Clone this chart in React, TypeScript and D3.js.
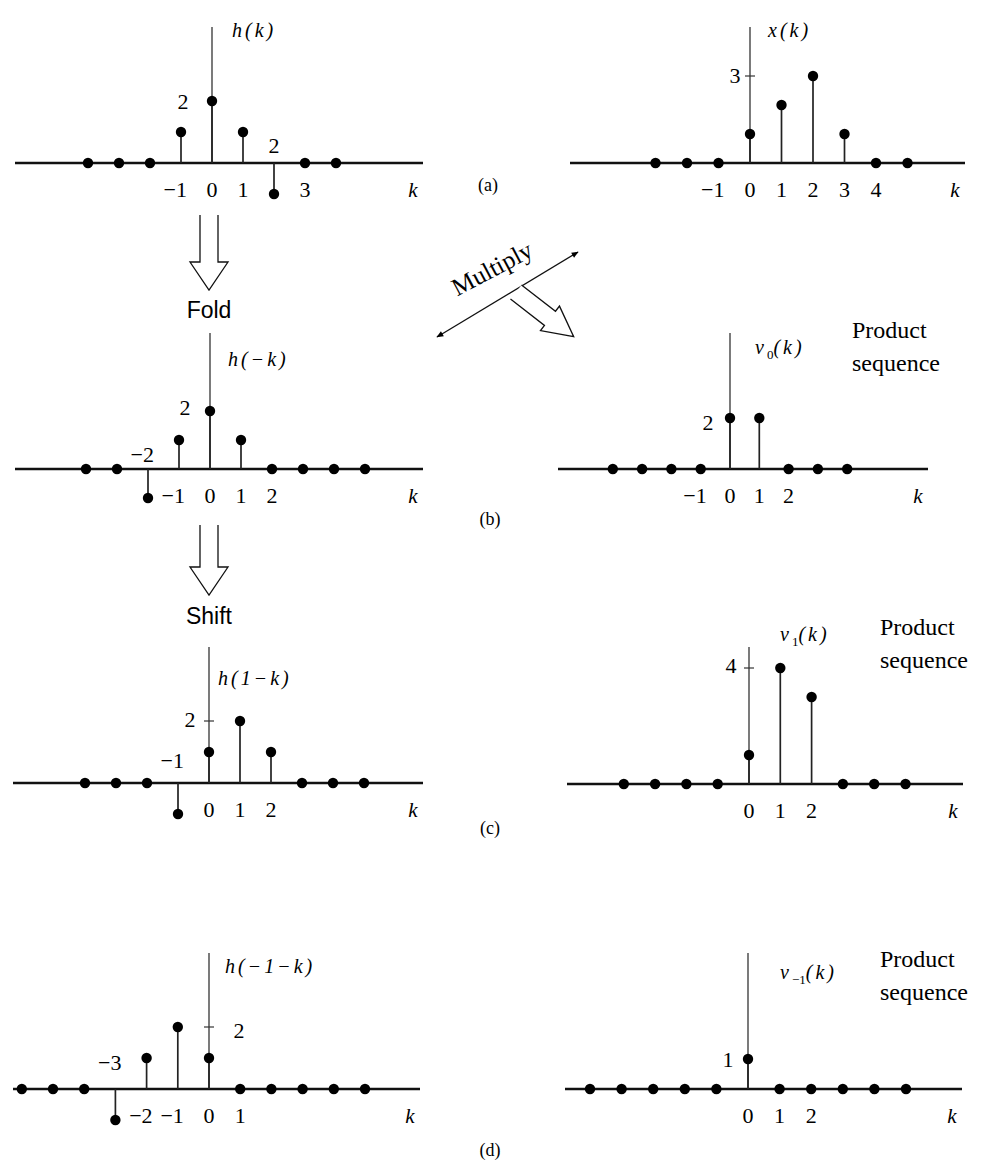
import React from 'react';
import * as d3 from 'd3';

// (a) h(k) and x(k)
const kH = [-4, -3, -2, -1, 0, 1, 2, 3, 4];
const hVals = [0, 0, 0, 1, 2, 1, -1, 0, 0];
const kX = [-3, -2, -1, 0, 1, 2, 3, 4, 5];
const xVals = [0, 0, 0, 1, 2, 3, 1, 0, 0];
// (b) folded h(-k) and product v0(k)
const kHm = [-4, -3, -2, -1, 0, 1, 2, 3, 4, 5];
const hmVals = [0, 0, -1, 1, 2, 1, 0, 0, 0, 0];
const kV0 = [-4, -3, -2, -1, 0, 1, 2, 3, 4];
const v0Vals = [0, 0, 0, 0, 2, 2, 0, 0, 0];
// (c) shifted h(1-k) and product v1(k)
const kH1 = [-4, -3, -2, -1, 0, 1, 2, 3, 4, 5];
const h1Vals = [0, 0, 0, -1, 1, 2, 1, 0, 0, 0];
const kV1 = [-4, -3, -2, -1, 0, 1, 2, 3, 4, 5];
const v1Vals = [0, 0, 0, 0, 1, 4, 3, 0, 0, 0];
// (d) shifted h(-1-k) and product v-1(k)
const kHn1 = [-6, -5, -4, -3, -2, -1, 0, 1, 2, 3, 4, 5];
const hn1Vals = [0, 0, 0, -1, 1, 2, 1, 0, 0, 0, 0, 0];
const kVn1 = [-5, -4, -3, -2, -1, 0, 1, 2, 3, 4, 5];
const vn1Vals = [0, 0, 0, 0, 0, 1, 0, 0, 0, 0, 0];

// k tick labels under the axis, and those written above it
const ticksA1 = [-1, 0, 1, 3];
const aboveA1 = [2];
const ticksA2 = [-1, 0, 1, 2, 3, 4];
const ticksB1 = [-1, 0, 1, 2];
const aboveB1 = [-2];
const ticksB2 = [-1, 0, 1, 2];
const ticksC1 = [0, 1, 2];
const aboveC1 = [-1];
const ticksC2 = [0, 1, 2];
const ticksD1 = [-2, -1, 0, 1];
const aboveD1 = [-3];
const ticksD2 = [0, 1, 2];

const SERIF = '"Liberation Serif", "DejaVu Serif", serif';
const SANS = '"Liberation Sans", Arial, sans-serif';
const MINUS = '\u2212';

const num = (v: number) => (v < 0 ? MINUS + Math.abs(v) : String(v));

interface PanelProps {
  ks: number[];
  vals: number[];
  ticks: number[];
  above?: number[];
  yLab: number;
  yLabDx: number;
  yLabDy: number;
  yTick?: boolean;
  name: React.ReactNode;
  nameX: number;
  nameY: number;
  x0: number;
  unit: number;
  axisY: number;
  amp: number;
  left: number;
  right: number;
  top: number;
  aboveDy?: number;
}

const StemPanel = (p: PanelProps) => {
  const x = d3.scaleLinear().domain([0, 1]).range([p.x0, p.x0 + p.unit]);
  const y = d3.scaleLinear().domain([0, 1]).range([p.axisY, p.axisY - p.amp]);
  const pts = p.ks.map((k, i) => ({ k, v: p.vals[i] }));
  const labY = p.axisY + 34;
  return (
    <g>
      <line x1={p.left} x2={p.right} y1={p.axisY} y2={p.axisY} stroke="#111" strokeWidth={2.4} />
      <line x1={x(0)} x2={x(0)} y1={p.top} y2={p.axisY} stroke="#333" strokeWidth={1.3} />
      {p.yTick && (
        <line x1={x(0) - 5} x2={x(0) + 5} y1={y(p.yLab)} y2={y(p.yLab)} stroke="#333" strokeWidth={1.2} />
      )}
      {pts.filter(d => d.v !== 0).map(d => (
        <line key={'s' + d.k} x1={x(d.k)} x2={x(d.k)} y1={y(0)} y2={y(d.v)} stroke="#222" strokeWidth={1.7} />
      ))}
      {pts.map(d => (
        <circle key={'c' + d.k} cx={x(d.k)} cy={y(d.v)} r={5.2} fill="#000" />
      ))}
      {p.ticks.map(k => (
        <text key={'t' + k} x={x(k) + (k < 0 ? 6 : 0)} y={labY} fontSize={22} fontFamily={SERIF}
          textAnchor={k < 0 ? 'end' : 'middle'}>{num(k)}</text>
      ))}
      {(p.above || []).map(k => (
        <text key={'a' + k} x={x(k) + (k < 0 ? 6 : 0)} y={p.axisY - (p.aboveDy ?? 12)} fontSize={22}
          fontFamily={SERIF} textAnchor={k < 0 ? 'end' : 'middle'}>{num(k)}</text>
      ))}
      <text x={p.right - 10} y={labY} fontSize={21} fontStyle="italic" fontFamily={SERIF} textAnchor="middle">k</text>
      <text x={x(0) + p.yLabDx} y={y(p.yLab) + p.yLabDy} fontSize={22} fontFamily={SERIF} textAnchor="middle">
        {num(p.yLab)}
      </text>
      <text x={p.nameX} y={p.nameY} fontSize={20} fontFamily={SERIF} fontStyle="italic" letterSpacing={3}>
        {p.name}
      </text>
    </g>
  );
};

const blockArrow = (sl: number, sw: number, hw: number, hl: number) => {
  const path = d3.path();
  path.moveTo(0, -sw / 2);
  path.lineTo(sl, -sw / 2);
  path.lineTo(sl, -hw / 2);
  path.lineTo(sl + hl, 0);
  path.lineTo(sl, hw / 2);
  path.lineTo(sl, sw / 2);
  path.lineTo(0, sw / 2);
  return path.toString();
};

const Product = ({ x, y }: { x: number; y: number }) => (
  <text x={x} y={y} fontSize={24} fontFamily={SERIF}>
    <tspan x={x}>Product</tspan>
    <tspan x={x} dy={33}>sequence</tspan>
  </text>
);

const vName = (s: string) => (
  <>
    v<tspan fontSize={13} fontStyle="normal" dy={5} letterSpacing={0}>{s}</tspan>
    <tspan dy={-5}>(k)</tspan>
  </>
);

export default function App() {
  return (
    <svg width={990} height={1169} style={{ position: 'absolute', left: 0, top: 0, background: '#fff' }}>
      <defs>
        <marker id="ah" viewBox="0 0 10 10" refX={9} refY={5} markerWidth={9} markerHeight={7}
          orient="auto-start-reverse" markerUnits="userSpaceOnUse">
          <path d="M0,1 L10,5 L0,9 Z" fill="#000" />
        </marker>
      </defs>

      {/* (a) */}
      <StemPanel ks={kH} vals={hVals} ticks={ticksA1} above={aboveA1} aboveDy={10} yLab={2} yLabDx={-29} yLabDy={8}
        name="h(k)" nameX={232} nameY={37}
        x0={212} unit={31} axisY={163} amp={31} left={15} right={423} top={27} />
      <StemPanel ks={kX} vals={xVals} ticks={ticksA2} yLab={3} yLabDx={-15} yLabDy={7} yTick
        name="x(k)" nameX={768} nameY={37}
        x0={750} unit={31.5} axisY={163} amp={29} left={570} right={965} top={27} />
      <text x={488} y={191} fontSize={18} fontFamily={SERIF} textAnchor="middle">(a)</text>

      {/* Fold */}
      <path d={blockArrow(47, 18, 38, 28)} transform="translate(209,215) rotate(90)" fill="#fff" stroke="#111" strokeWidth={1.3} />
      <text x={209} y={318} fontSize={23} fontFamily={SANS} textAnchor="middle">Fold</text>

      {/* Multiply */}
      <line x1={437} y1={337} x2={578} y2={252} stroke="#111" strokeWidth={1.3} markerStart="url(#ah)" markerEnd="url(#ah)" />
      <text x={0} y={0} transform="translate(496,276) rotate(-28)" fontSize={25} fontFamily={SERIF} textAnchor="middle">Multiply</text>
      <path d={blockArrow(43, 18, 31, 30)} transform="translate(516,292) rotate(37.8)" fill="#fff" stroke="#111" strokeWidth={1.3} />

      {/* (b) */}
      <StemPanel ks={kHm} vals={hmVals} ticks={ticksB1} above={aboveB1} aboveDy={7} yLab={2} yLabDx={-25} yLabDy={4}
        name={'h(' + MINUS + 'k)'} nameX={228} nameY={366}
        x0={210} unit={31} axisY={469} amp={29} left={15} right={423} top={333} />
      <StemPanel ks={kV0} vals={v0Vals} ticks={ticksB2} yLab={2} yLabDx={-22} yLabDy={12}
        name={vName('0')} nameX={755} nameY={354}
        x0={730} unit={29.3} axisY={469} amp={25.5} left={558} right={928} top={333} />
      <Product x={852} y={338} />
      <text x={490} y={525} fontSize={18} fontFamily={SERIF} textAnchor="middle">(b)</text>

      {/* Shift */}
      <path d={blockArrow(42, 18, 38, 28)} transform="translate(209,525) rotate(90)" fill="#fff" stroke="#111" strokeWidth={1.3} />
      <text x={209} y={624} fontSize={23} fontFamily={SANS} textAnchor="middle">Shift</text>

      {/* (c) */}
      <StemPanel ks={kH1} vals={h1Vals} ticks={ticksC1} above={aboveC1} aboveDy={15} yLab={2} yLabDx={-19} yLabDy={6} yTick
        name={'h(1' + MINUS + 'k)'} nameX={218} nameY={685}
        x0={209} unit={31} axisY={783} amp={31} left={13} right={423} top={647} />
      <StemPanel ks={kV1} vals={v1Vals} ticks={ticksC2} yLab={4} yLabDx={-18} yLabDy={5} yTick
        name={vName('1')} nameX={780} nameY={641}
        x0={749} unit={31.3} axisY={784} amp={29} left={567} right={963} top={647} />
      <Product x={880} y={635} />
      <text x={490} y={834} fontSize={18} fontFamily={SERIF} textAnchor="middle">(c)</text>

      {/* (d) */}
      <StemPanel ks={kHn1} vals={hn1Vals} ticks={ticksD1} above={aboveD1} aboveDy={19} yLab={2} yLabDx={30} yLabDy={11} yTick
        name={'h(' + MINUS + '1' + MINUS + 'k)'} nameX={225} nameY={973}
        x0={209} unit={31.2} axisY={1089} amp={31} left={13} right={420} top={953} />
      <StemPanel ks={kVn1} vals={vn1Vals} ticks={ticksD2} yLab={1} yLabDx={-20} yLabDy={8}
        name={vName(MINUS + '1')} nameX={780} nameY={979}
        x0={748} unit={31.6} axisY={1089} amp={30} left={565} right={962} top={953} />
      <Product x={880} y={967} />
      <text x={490} y={1156} fontSize={18} fontFamily={SERIF} textAnchor="middle">(d)</text>
    </svg>
  );
}
